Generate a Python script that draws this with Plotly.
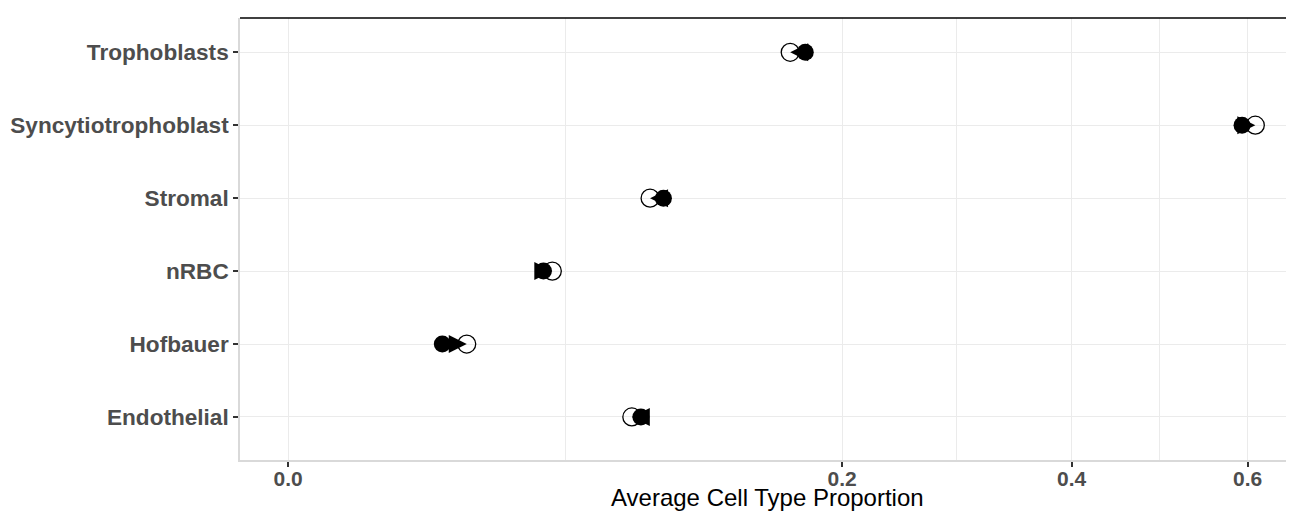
import numpy as np
import plotly.graph_objects as go

# Data (original proportions, x axis is sqrt-transformed like ggplot scale_x_sqrt)
cell_types = ["Endothelial", "Hofbauer", "nRBC", "Stromal", "Syncytiotrophoblast", "Trophoblasts"]
prop_from = [0.0811, 0.0155, 0.0425, 0.0918, 0.593, 0.1743]   # filled circles
prop_to = [0.0770, 0.0208, 0.0455, 0.0854, 0.6096, 0.1643]     # open circles
tick_vals = [0.0, 0.2, 0.4, 0.6]
tick_text = ["0.0", "0.2", "0.4", "0.6"]
minor_vals = [0.05, 0.2915, 0.4949]  # ggplot minor breaks (midpoints in sqrt space), approx
x_title = "Average Cell Type Proportion"

sx_from = np.sqrt(prop_from)
sx_to = np.sqrt(prop_to)
y_idx = list(range(1, len(cell_types) + 1))

fig = go.Figure()

fig.add_trace(go.Scatter(
    x=sx_to, y=y_idx, mode="markers",
    marker=dict(symbol="circle-open", size=18, color="black", line=dict(width=1.3)),
    showlegend=False, hoverinfo="skip"))
fig.add_trace(go.Scatter(
    x=sx_from, y=y_idx, mode="markers",
    marker=dict(symbol="circle", size=17, color="black"),
    showlegend=False, hoverinfo="skip"))

for xf, xt, yy in zip(sx_from, sx_to, y_idx):
    fig.add_annotation(x=xt, y=yy, ax=xf, ay=yy, xref="x", yref="y", axref="x", ayref="y",
                       showarrow=True, arrowhead=2, arrowsize=1.2, arrowwidth=3,
                       arrowcolor="black", standoff=0, startstandoff=0, text="")

grid_col = "#EBEBEB"
fig.update_xaxes(
    range=[-0.0388, 0.812],
    tickmode="array", tickvals=np.sqrt(tick_vals), ticktext=tick_text,
    showgrid=True, gridcolor=grid_col, gridwidth=1.4,
    minor=dict(tickvals=np.sqrt(minor_vals), showgrid=True, gridcolor=grid_col, gridwidth=0.8, ticklen=0),
    ticks="outside", ticklen=5, tickwidth=1.5, tickcolor="#333333",
    ticklabelstandoff=-6,
    tickfont=dict(family="Liberation Sans", size=21, color="#4D4D4D", weight="bold"),
    showline=True, linecolor="#D9D9D9", linewidth=1.5,
    zeroline=False,
)
fig.update_yaxes(
    range=[0.41, 6.47],
    tickmode="array", tickvals=y_idx, ticktext=cell_types,
    showgrid=True, gridcolor=grid_col, gridwidth=1.4,
    ticks="outside", ticklen=5, tickwidth=1.5, tickcolor="#333333",
    tickfont=dict(family="Liberation Sans", size=22.6, color="#4D4D4D", weight="bold"),
    showline=True, linecolor="#D9D9D9", linewidth=1.5,
    zeroline=False,
)

fig.add_annotation(text=x_title, xref="paper", yref="paper", x=0.5, y=0,
                   xanchor="center", yanchor="bottom", yshift=-52, showarrow=False,
                   borderpad=0,
                   font=dict(family="Liberation Sans", size=24, color="black"))

fig.add_shape(type="line", xref="paper", yref="paper", x0=0, x1=1, y0=1, y1=1,
              line=dict(color="black", width=1.5))

fig.update_layout(
    width=1286, height=504,
    margin=dict(l=232, r=0, t=10, b=52, autoexpand=False),
    plot_bgcolor="white", paper_bgcolor="white",
    showlegend=False,
)

fig.write_html("out.html")
